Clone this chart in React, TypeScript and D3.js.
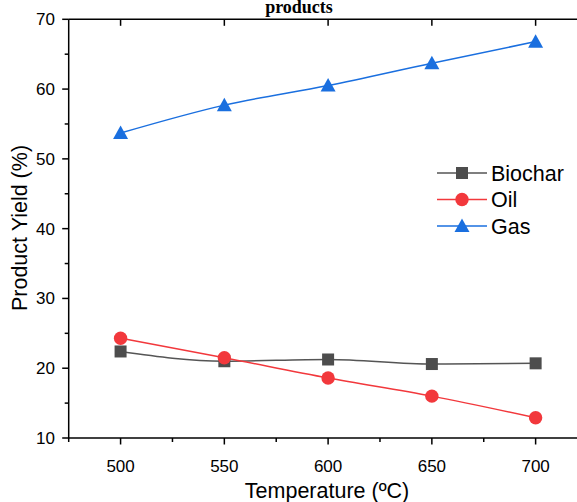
import React from "react";
import * as d3 from "d3";

const temperatures = [500, 550, 600, 650, 700];
const biochar = [22.4, 21.0, 21.25, 20.6, 20.7];
const oil = [24.3, 21.5, 18.6, 16.0, 12.9];
const gas = [53.7, 57.7, 60.5, 63.7, 66.8];
const xTicks = [500, 550, 600, 650, 700];
const yTicks = [10, 20, 30, 40, 50, 60, 70];
const seriesNames = ["Biochar", "Oil", "Gas"];

const W = 577;
const H = 502;
const left = 68.7;
const top = 19.3;
const bottom = 438;

export default function App() {
  const x = d3.scaleLinear().domain([475, 725]).range([left, left + 518.8]);
  const y = d3.scaleLinear().domain([10, 70]).range([bottom, top]);
  const line = d3
    .line<number>()
    .x((_, i) => x(temperatures[i]))
    .y((d) => y(d))
    .curve(d3.curveMonotoneX);

  const colors = ["#4d4d4d", "#f2383c", "#1a6fdf"];
  const lineColors = ["#555555", "#f2383c", "#1a6fdf"];
  const data = [biochar, oil, gas];
  const xMinor = d3.range(475, 726, 25).filter((v) => v % 50 !== 0);
  const yMinor = d3.range(15, 70, 10);
  const font = "Arial, 'Liberation Sans', sans-serif";

  const marker = (k: number, cx: number, cy: number, key: string) => {
    if (k === 0)
      return <rect key={key} x={cx - 6} y={cy - 6} width={12} height={12} fill={colors[0]} />;
    if (k === 1) return <circle key={key} cx={cx} cy={cy} r={6.7} fill={colors[1]} />;
    const s = 7.5;
    return (
      <path
        key={key}
        d={`M${cx},${cy - s} L${cx + s},${cy + s * 0.8} L${cx - s},${cy + s * 0.8} Z`}
        fill={colors[2]}
      />
    );
  };

  return (
    <svg
      width={W}
      height={H}
      style={{ position: "absolute", left: 0, top: 0, background: "#fff" }}
    >
      <text
        x={299}
        y={12.5}
        textAnchor="middle"
        fontFamily="'Liberation Serif', 'Times New Roman', serif"
        fontWeight="bold"
        fontSize={18}
      >
        products
      </text>
      {/* data */}
      {data.map((d, k) => (
        <path key={"l" + k} d={line(d) || ""} fill="none" stroke={lineColors[k]} strokeWidth={1.5} />
      ))}
      {data.map((d, k) => d.map((v, i) => marker(k, x(temperatures[i]), y(v), `m${k}-${i}`)))}
      {/* axes */}
      <line x1={left} x2={W} y1={top} y2={top} stroke="#000" strokeWidth={1.5} />
      <line x1={left} x2={W} y1={bottom} y2={bottom} stroke="#000" strokeWidth={1.5} />
      <line x1={left} x2={left} y1={top} y2={bottom} stroke="#000" strokeWidth={1.5} />
      {xTicks.map((t) => (
        <g key={"xt" + t}>
          <line x1={x(t)} x2={x(t)} y1={bottom} y2={bottom + 6.5} stroke="#000" strokeWidth={1.5} />
          <line x1={x(t)} x2={x(t)} y1={top} y2={top + 6.5} stroke="#000" strokeWidth={1.5} />
          <text x={x(t)} y={472} textAnchor="middle" fontFamily={font} fontSize={17}>
            {t}
          </text>
        </g>
      ))}
      {xMinor.map((t) => (
        <line key={"xm" + t} x1={x(t)} x2={x(t)} y1={bottom} y2={bottom + 4} stroke="#000" strokeWidth={1.5} />
      ))}
      {yTicks.map((t) => (
        <g key={"yt" + t}>
          <line x1={left - 6.5} x2={left} y1={y(t)} y2={y(t)} stroke="#000" strokeWidth={1.5} />
          <text x={55} y={y(t) + 6} textAnchor="end" fontFamily={font} fontSize={17}>
            {t}
          </text>
        </g>
      ))}
      {yMinor.map((t) => (
        <line key={"ym" + t} x1={left - 4} x2={left} y1={y(t)} y2={y(t)} stroke="#000" strokeWidth={1.5} />
      ))}
      <text x={327} y={498} textAnchor="middle" fontFamily={font} fontSize={21.5}>
        Temperature (ºC)
      </text>
      <text
        transform={`translate(27,${228}) rotate(-90)`}
        textAnchor="middle"
        fontFamily={font}
        fontSize={21.5}
      >
        Product Yield (%)
      </text>
      {/* legend */}
      {seriesNames.map((name, k) => {
        const ly = 173 + k * 26.5;
        return (
          <g key={"lg" + k}>
            <line x1={437} x2={487} y1={ly} y2={ly} stroke={lineColors[k]} strokeWidth={1.5} />
            {marker(k, 462, ly, "lm" + k)}
            <text x={491} y={ly + 7.5} fontFamily={font} fontSize={21.5}>
              {name}
            </text>
          </g>
        );
      })}
    </svg>
  );
}
